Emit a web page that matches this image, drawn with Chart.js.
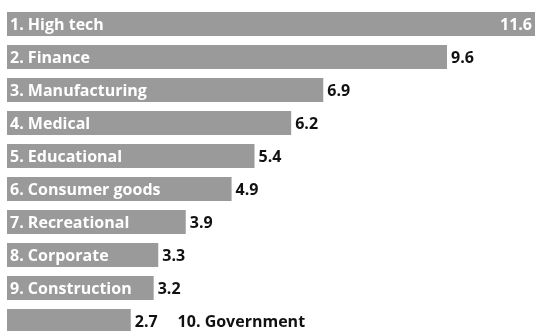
<!DOCTYPE html>
<html>
<head>
<meta charset="utf-8">
<script src="https://cdn.jsdelivr.net/npm/chart.js@4/dist/chart.umd.min.js"></script>
<style>
html,body{margin:0;padding:0;background:#fff;overflow:hidden;}
#wrap{position:relative;width:535px;height:340px;}
</style>
</head>
<body>
<div id="wrap"><canvas id="c" width="535" height="340"></canvas></div>
<script>
const categories = ["1. High tech","2. Finance","3. Manufacturing","4. Medical","5. Educational","6. Consumer goods","7. Recreational","8. Corporate","9. Construction","10. Government"];
const values = [11.6, 9.6, 6.9, 6.2, 5.4, 4.9, 3.9, 3.3, 3.2, 2.7];
const valueLabels = ["11.6","9.6","6.9","6.2","5.4","4.9","3.9","3.3","3.2","2.7"];

const FONT = "bold 16px 'Open Sans', 'Noto Sans', sans-serif";

const labelPlugin = {
  id: 'barLabels',
  afterDatasetsDraw(chart) {
    const ctx = chart.ctx;
    const meta = chart.getDatasetMeta(0);
    ctx.save();
    ctx.font = FONT;
    ctx.textBaseline = 'middle';
    meta.data.forEach((bar, i) => {
      const y = bar.y + 1;
      const left = bar.base;
      const right = Math.min(bar.x, chart.width);
      const name = categories[i];
      const val = valueLabels[i];
      const nameW = ctx.measureText(name).width;
      const valW = ctx.measureText(val).width;
      if (nameW + 22 < right - left) {
        ctx.fillStyle = '#ffffff';
        ctx.textAlign = 'left';
        ctx.fillText(name, left + 3, y);
        if (right + 5 + valW > chart.width) {
          ctx.textAlign = 'right';
          ctx.fillText(val, chart.width - 3, y);
        } else {
          ctx.fillStyle = '#111111';
          ctx.textAlign = 'left';
          ctx.fillText(val, right + 4, y);
        }
      } else {
        ctx.fillStyle = '#111111';
        ctx.textAlign = 'left';
        ctx.fillText(val, right + 4, y);
        ctx.fillText(name, right + 4 + valW + 20, y);
      }
    });
    ctx.restore();
  }
};

new Chart(document.getElementById('c'), {
  type: 'bar',
  data: {
    labels: categories,
    datasets: [{
      data: values,
      backgroundColor: '#9a9a9a',
      borderWidth: 0,
      barPercentage: 0.73,
      categoryPercentage: 1.0
    }]
  },
  options: {
    indexAxis: 'y',
    responsive: false,
    animation: false,
    devicePixelRatio: 1,
    layout: { padding: { left: 7, right: 0, top: 7.5, bottom: 2.5 } },
    plugins: { legend: { display: false }, tooltip: { enabled: false } },
    scales: {
      x: { display: false, min: 0, max: 11.52 },
      y: { display: false }
    }
  },
  plugins: [labelPlugin]
});
</script>
</body>
</html>
